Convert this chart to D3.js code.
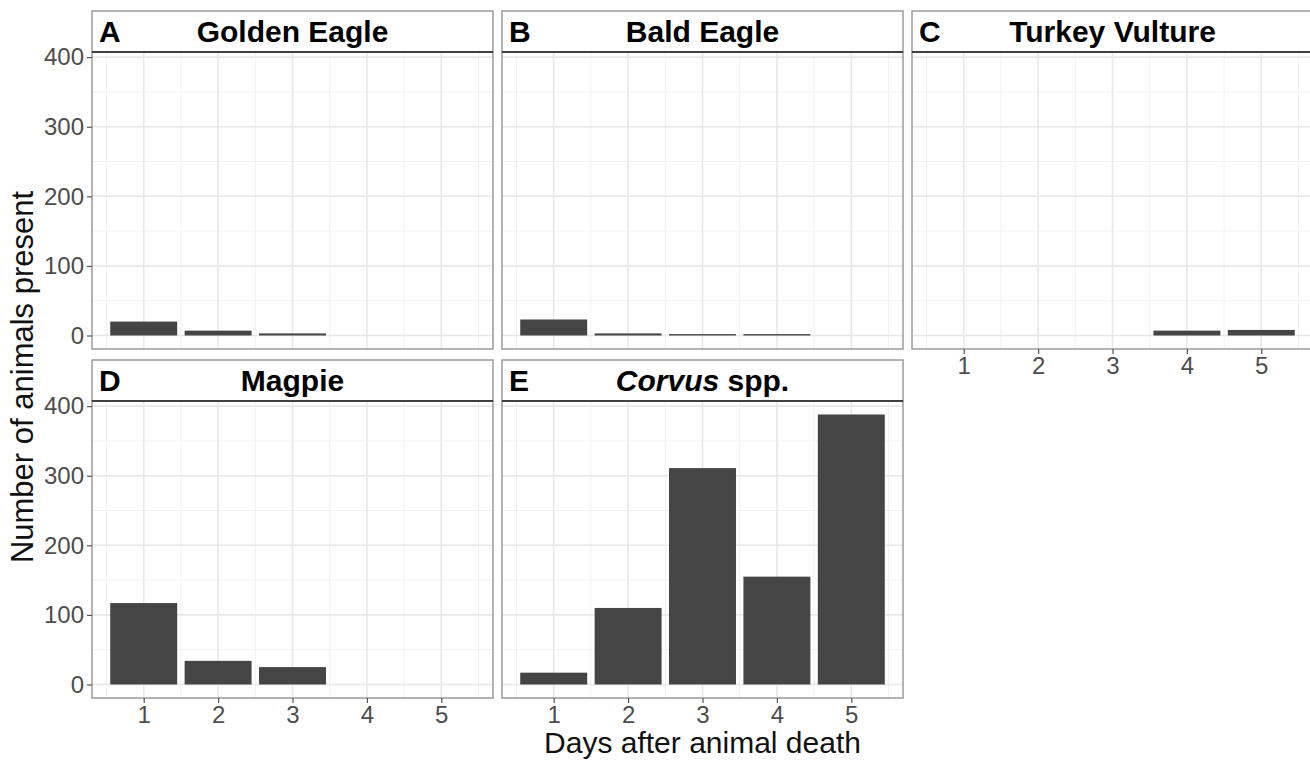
<!DOCTYPE html>
<html lang="en">
<head>
  <meta charset="UTF-8">
  <title>Scavenger birds by day</title>
  <script src="https://d3js.org/d3.v7.min.js"></script>
  <style>
    body { margin: 0; background: #fff; }
    svg { font-family: "Liberation Sans", Arial, sans-serif; }
  </style>
</head>
<body>
<script>
  // data
  var days = [1, 2, 3, 4, 5];
  var species = ["Golden Eagle", "Bald Eagle", "Turkey Vulture", "Magpie", "Corvus spp."];
  var letters = ["A", "B", "C", "D", "E"];
  var goldenEagle = [20, 7, 3, 0, 0];
  var baldEagle = [23, 3, 2, 2, 0];
  var turkeyVulture = [0, 0, 0, 7, 8];
  var magpie = [117, 34, 25, 0, 0];
  var corvus = [17, 110, 311, 155, 388];
  var yTicks = [0, 100, 200, 300, 400];

  var series = [goldenEagle, baldEagle, turkeyVulture, magpie, corvus];

  var W = 1310, H = 762;
  var colX = [92, 502, 912];
  var rowTop = [11, 360];
  var panelW = 401, stripH = 41, plotH = 297;

  var svg = d3.select("body").append("svg")
    .attr("width", W)
    .attr("height", H);

  // shared scales, like ggplot facets
  var maxV = d3.max(series, function (s) { return d3.max(s); });
  var y = d3.scaleLinear()
    .domain([-maxV * 0.05, maxV * 1.05])
    .range([plotH, 0]);
  var barW = 0.9;
  var x = d3.scaleLinear()
    .domain([1 - barW / 2 - 4.9 * 0.05, 5 + barW / 2 + 4.9 * 0.05])
    .range([0, panelW]);

  var minorX = [0.5, 1.5, 2.5, 3.5, 4.5, 5.5];
  var minorY = [50, 150, 250, 350];

  species.forEach(function (name, i) {
    var col = i % 3, row = Math.floor(i / 3);
    var vals = series[i];
    var g = svg.append("g")
      .attr("transform", "translate(" + colX[col] + "," + (rowTop[row] + stripH) + ")");

    // strip
    var strip = svg.append("g")
      .attr("transform", "translate(" + colX[col] + "," + rowTop[row] + ")");
    strip.append("rect")
      .attr("x", 0).attr("y", 0)
      .attr("width", panelW).attr("height", stripH)
      .attr("fill", "#fff")
      .attr("stroke", "#9a9a9a")
      .attr("stroke-width", 1.5);
    strip.append("line")
      .attr("x1", 0).attr("x2", panelW)
      .attr("y1", stripH).attr("y2", stripH)
      .attr("stroke", "#404040")
      .attr("stroke-width", 2);
    strip.append("text")
      .attr("x", 7).attr("y", 31)
      .attr("font-size", 30).attr("font-weight", "bold")
      .attr("fill", "#000")
      .text(letters[i]);
    var title = strip.append("text")
      .attr("x", panelW / 2).attr("y", 31)
      .attr("text-anchor", "middle")
      .attr("font-size", 30).attr("font-weight", "bold")
      .attr("fill", "#000");
    if (name === "Corvus spp.") {
      title.append("tspan").attr("font-style", "italic").text("Corvus");
      title.append("tspan").text(" spp.");
    } else {
      title.text(name);
    }

    // grid
    g.selectAll(".minx").data(minorX).enter().append("line")
      .attr("x1", function (d) { return x(d); }).attr("x2", function (d) { return x(d); })
      .attr("y1", 0).attr("y2", plotH)
      .attr("stroke", "#f2f2f2").attr("stroke-width", 1);
    g.selectAll(".miny").data(minorY).enter().append("line")
      .attr("x1", 0).attr("x2", panelW)
      .attr("y1", function (d) { return y(d); }).attr("y2", function (d) { return y(d); })
      .attr("stroke", "#f2f2f2").attr("stroke-width", 1);
    g.selectAll(".majx").data(days).enter().append("line")
      .attr("x1", function (d) { return x(d); }).attr("x2", function (d) { return x(d); })
      .attr("y1", 0).attr("y2", plotH)
      .attr("stroke", "#e8e8e8").attr("stroke-width", 1.6);
    g.selectAll(".majy").data(yTicks).enter().append("line")
      .attr("x1", 0).attr("x2", panelW)
      .attr("y1", function (d) { return y(d); }).attr("y2", function (d) { return y(d); })
      .attr("stroke", "#e8e8e8").attr("stroke-width", 1.6);

    // bars
    var rows = days.map(function (d, k) { return { day: d, v: vals[k] }; })
      .filter(function (d) { return d.v > 0; });
    g.selectAll(".bar").data(rows).enter().append("rect")
      .attr("x", function (d) { return x(d.day - barW / 2); })
      .attr("width", x(barW) - x(0))
      .attr("y", function (d) { return y(d.v); })
      .attr("height", function (d) { return y(0) - y(d.v); })
      .attr("fill", "#454545");

    // border
    g.append("rect")
      .attr("width", panelW).attr("height", plotH)
      .attr("fill", "none")
      .attr("stroke", "#9a9a9a")
      .attr("stroke-width", 1.5);

    // axes
    if (col === 0) {
      var ya = g.append("g")
        .call(d3.axisLeft(y).tickValues(yTicks).tickSize(5).tickPadding(3));
      ya.select(".domain").remove();
      ya.selectAll("line").attr("stroke", "#555").attr("stroke-width", 1.2);
      ya.selectAll("text").attr("font-size", 24).attr("fill", "#4d4d4d")
        .attr("font-family", "Liberation Sans, Arial, sans-serif");
    }
    var hasBelow = (row === 0 && i + 3 < species.length);
    if (!hasBelow) {
      var xa = g.append("g")
        .attr("transform", "translate(0," + plotH + ")")
        .call(d3.axisBottom(x).tickValues(days).tickFormat(d3.format("d")).tickSize(5).tickPadding(3));
      xa.select(".domain").remove();
      xa.selectAll("line").attr("stroke", "#555").attr("stroke-width", 1.2);
      xa.selectAll("text").attr("font-size", 24).attr("fill", "#4d4d4d")
        .attr("font-family", "Liberation Sans, Arial, sans-serif");
    }
  });

  // axis titles
  svg.append("text")
    .attr("x", (colX[0] + colX[2] + panelW) / 2)
    .attr("y", 753)
    .attr("text-anchor", "middle")
    .attr("font-size", 30)
    .attr("fill", "#111")
    .text("Days after animal death");

  svg.append("text")
    .attr("transform", "translate(33," + ((rowTop[0] + stripH + rowTop[1] + stripH + plotH) / 2 + 2) + ") rotate(-90)")
    .attr("text-anchor", "middle")
    .attr("font-size", 31)
    .attr("fill", "#111")
    .text("Number of animals present");
</script>
</body>
</html>
